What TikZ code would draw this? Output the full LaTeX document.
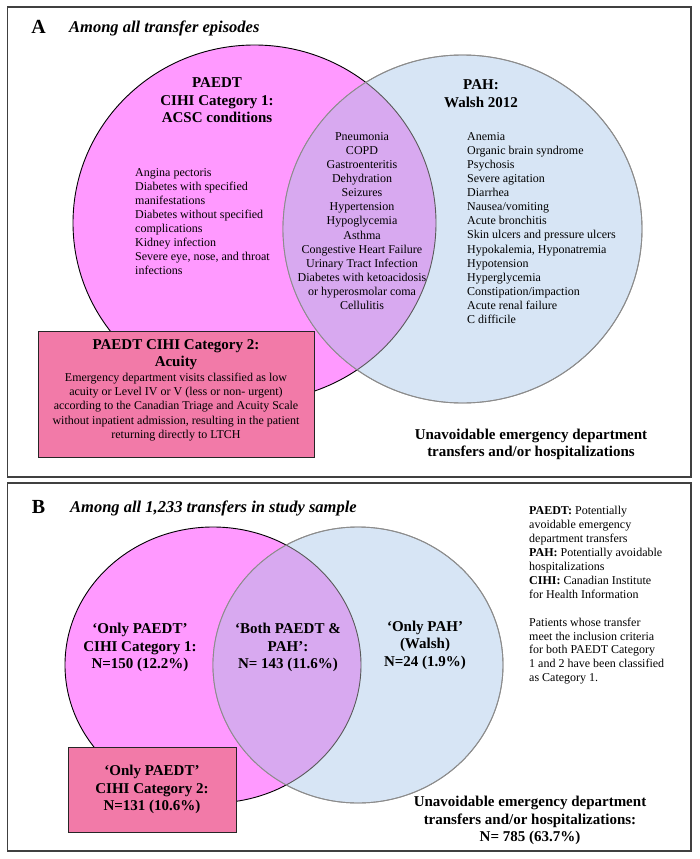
\documentclass[tikz,border=0pt]{standalone}
\usepackage{fontspec}
\setmainfont{Liberation Serif}
\definecolor{pinkc}{HTML}{FF99FF}
\definecolor{bluec}{HTML}{D7E5F5}
\definecolor{lensc}{HTML}{D8A9F0}
\definecolor{boxc}{HTML}{F27AA8}
\definecolor{framec}{HTML}{404040}
\definecolor{bluel}{HTML}{8C8C8C}
\definecolor{lensl}{HTML}{5A5A5A}
\begin{document}
\begin{tikzpicture}[x=1pt,y=-1pt,
  panel/.style={draw=framec, line width=1.2pt},
  pinkset/.style={fill=pinkc, draw=black, line width=0.9pt},
  blueset/.style={fill=bluec, draw=bluel, line width=0.9pt},
  heading/.style={font=\fontsize{15}{17.5}\selectfont\bfseries, align=center, inner sep=0pt},
  listtext/.style={font=\fontsize{12}{14.1}\selectfont, inner sep=0pt},
  legendtext/.style={font=\fontsize{12}{13.9}\selectfont, inner sep=0pt, align=left, anchor=west},
  paneltitle/.style={font=\fontsize{16.5}{19}\selectfont\bfseries\itshape, anchor=base west, inner sep=0pt},
  letter/.style={font=\fontsize{20}{24}\selectfont\bfseries, inner sep=0pt},
  catbox/.style={draw=black!85, fill=boxc, line width=0.9pt, align=center, inner sep=0pt}
]
\useasboundingbox (0,0) rectangle (700,859);
\fill[white] (0,0) rectangle (700,859);

% ---------------- Panel A ----------------
\draw[panel] (7.5,7) rectangle (691,477);
\node[letter] (letA) at (38.5,27) {A};
\node[paneltitle] (titA) at (69,32.5) {Among all transfer episodes};

\def\pinkA{(254.5,223) ellipse [x radius=181.5pt, y radius=178pt]}
\def\blueA{(462.5,229) ellipse [x radius=179.5pt, y radius=174pt]}
\draw[pinkset] \pinkA;
\draw[blueset] \blueA;
\begin{scope}
  \clip \pinkA;
  \fill[lensc] \blueA;
\end{scope}
\begin{scope}
  \clip \blueA;
  \draw[lensl, line width=0.9pt] \pinkA;
\end{scope}
\draw[bluel, line width=0.9pt] \blueA;

\node[heading] (hPAEDT) at (217,100.5) {PAEDT\\CIHI Category 1:\\ACSC conditions};
\node[heading] (hPAH) at (481,93.5) {PAH:\\Walsh 2012};

\node[listtext, align=left, anchor=west] (listA) at (135,221.5) {Angina pectoris\\Diabetes with specified\\manifestations\\Diabetes without specified\\complications\\Kidney infection\\Severe eye, nose, and throat\\infections};

\node[listtext, align=center] (listBoth) at (362,221) {Pneumonia\\COPD\\Gastroenteritis\\Dehydration\\Seizures\\Hypertension\\Hypoglycemia\\Asthma\\Congestive Heart Failure\\Urinary Tract Infection\\Diabetes with ketoacidosis\\or hyperosmolar coma\\Cellulitis};

\node[listtext, align=left, anchor=west] (listPAH) at (467,228) {Anemia\\Organic brain syndrome\\Psychosis\\Severe agitation\\Diarrhea\\Nausea/vomiting\\Acute bronchitis\\Skin ulcers and pressure ulcers\\Hypokalemia, Hyponatremia\\Hypotension\\Hyperglycemia\\Constipation/impaction\\Acute renal failure\\C difficile};

\node[catbox, minimum width=276pt, minimum height=126pt] (cat2A) at (176,394) {};
\node[heading, font=\fontsize{15}{17}\selectfont\bfseries] (cat2Ahead) at (176,354.5) {PAEDT CIHI Category 2:\\Acuity};
\node[listtext, align=center] (cat2Abody) at (176,407) {Emergency department visits classified as low\\acuity or Level IV or V (less or non- urgent)\\according to the Canadian Triage and Acuity Scale\\without inpatient admission, resulting in the patient\\returning directly to LTCH};

\node[heading, font=\fontsize{15}{17}\selectfont\bfseries] (unavA) at (531,444.5) {Unavoidable emergency department\\transfers and/or hospitalizations};

% ---------------- Panel B ----------------
\draw[panel] (7.5,483) rectangle (691,851);
\node[letter] (letB) at (38.5,507) {B};
\node[paneltitle] (titB) at (70,512.5) {Among all 1,233 transfers in study sample};

\def\pinkB{(213,665) ellipse [x radius=148pt, y radius=138pt]}
\def\blueB{(358,665) ellipse [x radius=145pt, y radius=138pt]}
\draw[pinkset] \pinkB;
\draw[blueset] \blueB;
\begin{scope}
  \clip \pinkB;
  \fill[lensc] \blueB;
\end{scope}
\begin{scope}
  \clip \blueB;
  \draw[lensl, line width=0.9pt] \pinkB;
\end{scope}
\draw[bluel, line width=0.9pt] \blueB;

\node[legendtext] (legend) at (529,595.5) {\textbf{PAEDT:} Potentially\\avoidable emergency\\department transfers\\\textbf{PAH:} Potentially avoidable\\hospitalizations\\\textbf{CIHI:} Canadian Institute\\for Health Information\\[13.9pt]Patients whose transfer\\meet the inclusion criteria\\for both PAEDT Category\\1 and 2 have been classified\\as Category 1.};

\node[heading] (only1) at (140,647.5) {‘Only PAEDT’\\CIHI Category 1:\\N=150 (12.2\%)};
\node[heading] (both) at (288,647.5) {‘Both PAEDT \&\\PAH’:\\N= 143 (11.6\%)};
\node[heading] (onlyPAH) at (425,645) {‘Only PAH’\\(Walsh)\\N=24 (1.9\%)};

\node[catbox, font=\fontsize{15}{17.5}\selectfont\bfseries, minimum width=168pt, minimum height=85pt] (cat2B) at (152,789.5) {‘Only PAEDT’\\CIHI Category 2:\\N=131 (10.6\%)};

\node[heading] (unavB) at (530,820.5) {Unavoidable emergency department\\transfers and/or hospitalizations:\\N= 785 (63.7\%)};
\end{tikzpicture}
\end{document}
